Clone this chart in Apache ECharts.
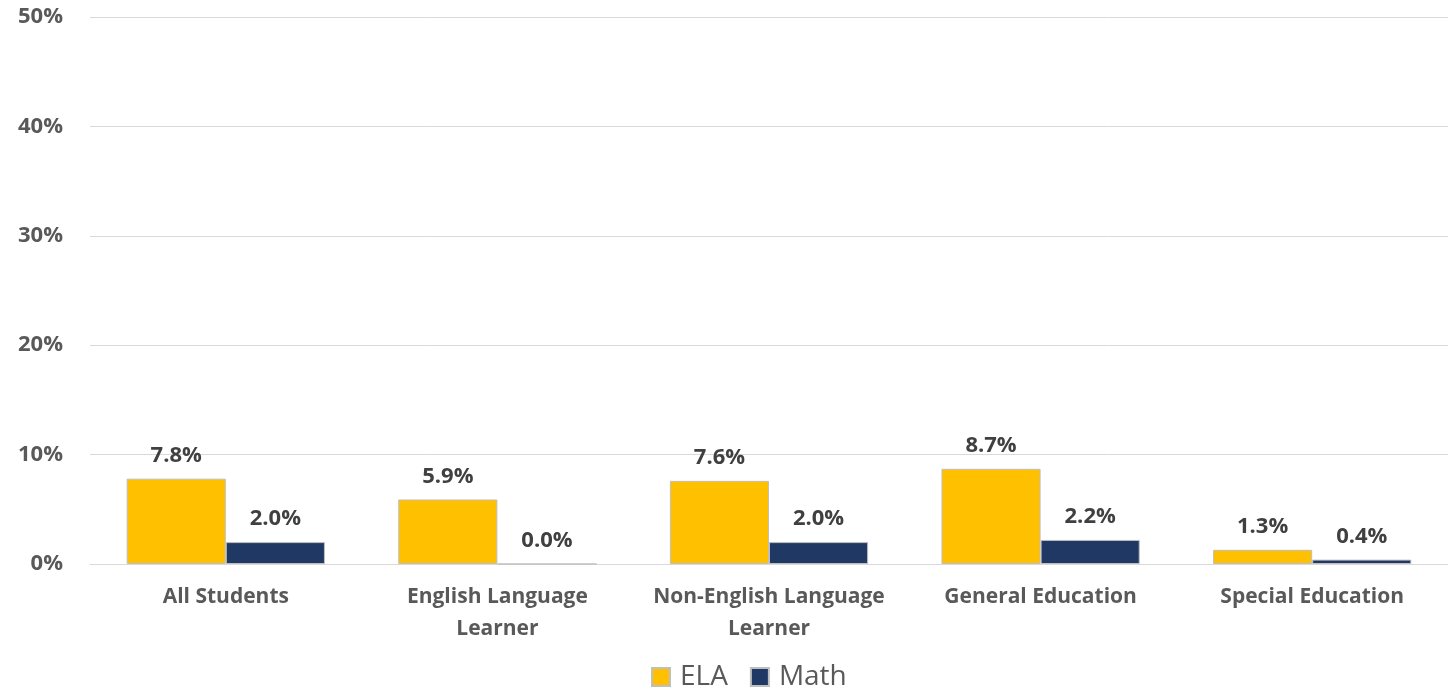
<!DOCTYPE html>
<html>
<head>
<meta charset="utf-8">
<script src="https://cdn.jsdelivr.net/npm/echarts@6/dist/echarts.min.js"></script>
<style>
html, body { margin: 0; padding: 0; background: #fff; }
#chart { width: 1448px; height: 690px; }
</style>
</head>
<body>
<div id="chart"></div>
<script>
const categories = ['All Students', 'English Language\nLearner', 'Non-English Language\nLearner', 'General Education', 'Special Education'];
const elaValues = [7.8, 5.9, 7.6, 8.7, 1.3];
const mathValues = [2.0, 0.0, 2.0, 2.2, 0.4];
const yTicks = [0, 10, 20, 30, 40, 50];

const chart = echarts.init(document.getElementById('chart'));

const labelStyle = {
    show: true,
    position: 'top',
    distance: 12,
    color: '#404040',
    fontFamily: 'Open Sans',
    fontWeight: 'bold',
    fontSize: 22,
    formatter: p => p.value.toFixed(1) + '%'
};

chart.setOption({
    animation: false,
    grid: { left: 90, right: 0, top: 17, bottom: 126, containLabel: false },
    legend: {
        top: 658,
        left: 646,
        itemWidth: 18,
        itemHeight: 18,
        itemGap: 22,
        icon: 'rect',
        textStyle: { color: '#595959', fontFamily: 'Open Sans', fontSize: 28, padding: [0, 0, 0, 5] },
        data: ['ELA', 'Math']
    },
    xAxis: {
        type: 'category',
        data: categories,
        axisLine: { lineStyle: { color: '#d9d9d9', width: 1 } },
        axisTick: { show: false },
        axisLabel: {
            margin: 17,
            color: '#595959',
            fontFamily: 'Open Sans',
            fontWeight: 'bold',
            fontSize: 21,
            lineHeight: 32,
            interval: 0
        }
    },
    yAxis: {
        type: 'value',
        min: yTicks[0],
        max: yTicks[yTicks.length - 1],
        interval: 10,
        axisLine: { show: false },
        axisTick: { show: false },
        splitLine: { lineStyle: { color: '#d9d9d9', width: 1 } },
        axisLabel: {
            margin: 27,
            color: '#595959',
            fontFamily: 'Open Sans',
            fontWeight: 'bold',
            fontSize: 22,
            formatter: v => v + '%'
        }
    },
    series: [
        {
            name: 'ELA',
            type: 'bar',
            data: elaValues,
            barGap: '0%',
            barCategoryGap: '27%',
            itemStyle: { color: '#ffc000', borderColor: '#bfbfbf', borderWidth: 1 },
            label: labelStyle
        },
        {
            name: 'Math',
            type: 'bar',
            data: mathValues,
            itemStyle: { color: '#1f3864', borderColor: '#bfbfbf', borderWidth: 1 },
            label: labelStyle
        }
    ]
});
</script>
</body>
</html>
